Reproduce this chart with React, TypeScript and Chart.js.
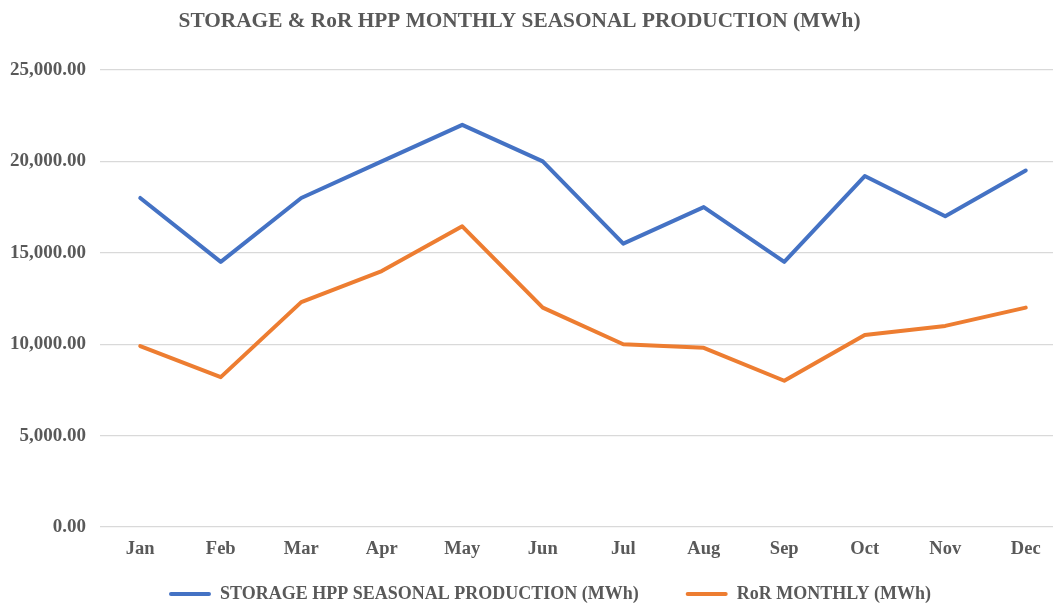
import React, { useEffect, useRef } from "react";
import { Chart, registerables } from "chart.js";

Chart.register(...registerables);

const TITLE = "STORAGE & RoR HPP MONTHLY SEASONAL PRODUCTION (MWh)";
const MONTHS = ["Jan", "Feb", "Mar", "Apr", "May", "Jun", "Jul", "Aug", "Sep", "Oct", "Nov", "Dec"];
const STORAGE_LABEL = "STORAGE HPP SEASONAL PRODUCTION (MWh)";
const STORAGE = [18000, 14500, 18000, 20000, 22000, 20000, 15500, 17500, 14500, 19200, 17000, 19500];
const ROR_LABEL = "RoR MONTHLY (MWh)";
const ROR = [9900, 8200, 12300, 14000, 16450, 12000, 10000, 9800, 8000, 10500, 11000, 12000];
const Y_MIN = 0;
const Y_MAX = 25000;
const Y_STEP = 5000;

const FONT = "'Liberation Serif', 'Times New Roman', serif";
const TEXT = "#595959";
const BLUE = "#4472C4";
const ORANGE = "#ED7D31";

const titlePlugin = {
  id: "customTitle",
  afterDraw(chart: any) {
    const ctx = chart.ctx;
    ctx.save();
    ctx.font = `bold 21.33px ${FONT}`;
    ctx.fillStyle = TEXT;
    ctx.textAlign = "center";
    ctx.textBaseline = "middle";
    ctx.fillText(TITLE, 519.5, 21.5);
    ctx.restore();
  },
};

// nudge the legend box so it sits where the reference has it
const legendPlacePlugin = {
  id: "legendPlace",
  afterLayout(chart: any) {
    const lg = chart.legend;
    if (!lg) return;
    lg.top -= 29;
    lg.bottom -= 29;
    lg.left += 34;
  },
};

export default function App() {
  const ref = useRef<HTMLCanvasElement | null>(null);

  useEffect(() => {
    if (!ref.current) return;
    const chart = new Chart(ref.current, {
      type: "line",
      data: {
        labels: MONTHS,
        datasets: [
          {
            label: STORAGE_LABEL,
            data: STORAGE,
            borderColor: BLUE,
            backgroundColor: BLUE,
            borderWidth: 4,
            pointRadius: 0,
            tension: 0,
            borderCapStyle: "round",
            borderJoinStyle: "round",
          },
          {
            label: ROR_LABEL,
            data: ROR,
            borderColor: ORANGE,
            backgroundColor: ORANGE,
            borderWidth: 4,
            pointRadius: 0,
            tension: 0,
            borderCapStyle: "round",
            borderJoinStyle: "round",
          },
        ],
      },
      options: {
        responsive: false,
        animation: false,
        devicePixelRatio: 1,
        layout: { padding: { top: 70, left: 0, right: 4, bottom: 0 } },
        plugins: {
          title: { display: false },
          tooltip: { enabled: false },
          legend: {
            position: "bottom",
            labels: {
              boxWidth: 42,
              boxHeight: 4,
              padding: 47,
              useBorderRadius: true,
              borderRadius: 2,
              color: TEXT,
              font: { family: FONT, size: 18, weight: "bold" },
              generateLabels: (c: any) =>
                c.data.datasets.map((ds: any, i: number) => ({
                  text: ds.label,
                  fillStyle: ds.borderColor,
                  strokeStyle: ds.borderColor,
                  lineWidth: 0,
                  hidden: false,
                  datasetIndex: i,
                  fontColor: TEXT,
                  borderRadius: 2,
                })),
            },
          },
        },
        scales: {
          x: {
            offset: true,
            grid: { display: false, drawTicks: false },
            border: { display: false },
            ticks: {
              padding: 11,
              color: TEXT,
              font: { family: FONT, size: 18.5, weight: "bold" },
              maxRotation: 0,
            },
            afterFit: (scale: any) => {
              scale.height = 40;
            },
          },
          y: {
            min: Y_MIN,
            max: Y_MAX,
            grid: { color: "#d9d9d9", lineWidth: 1.3, drawTicks: false },
            border: { display: false },
            ticks: {
              stepSize: Y_STEP,
              padding: 14,
              color: TEXT,
              font: { family: FONT, size: 19, weight: "bold" },
              callback: (v: any) =>
                Number(v).toLocaleString("en-US", { minimumFractionDigits: 2, maximumFractionDigits: 2 }),
            },
            afterFit: (scale: any) => {
              scale.width = 100;
            },
          },
        },
      },
      plugins: [titlePlugin, legendPlacePlugin],
    });
    return () => chart.destroy();
  }, []);

  return (
    <div
      style={{
        position: "fixed",
        left: 0,
        top: 0,
        width: 1053,
        height: 604,
        overflow: "hidden",
        background: "#fff",
      }}
    >
      <canvas ref={ref} width={1070} height={642} style={{ display: "block" }} />
    </div>
  );
}
